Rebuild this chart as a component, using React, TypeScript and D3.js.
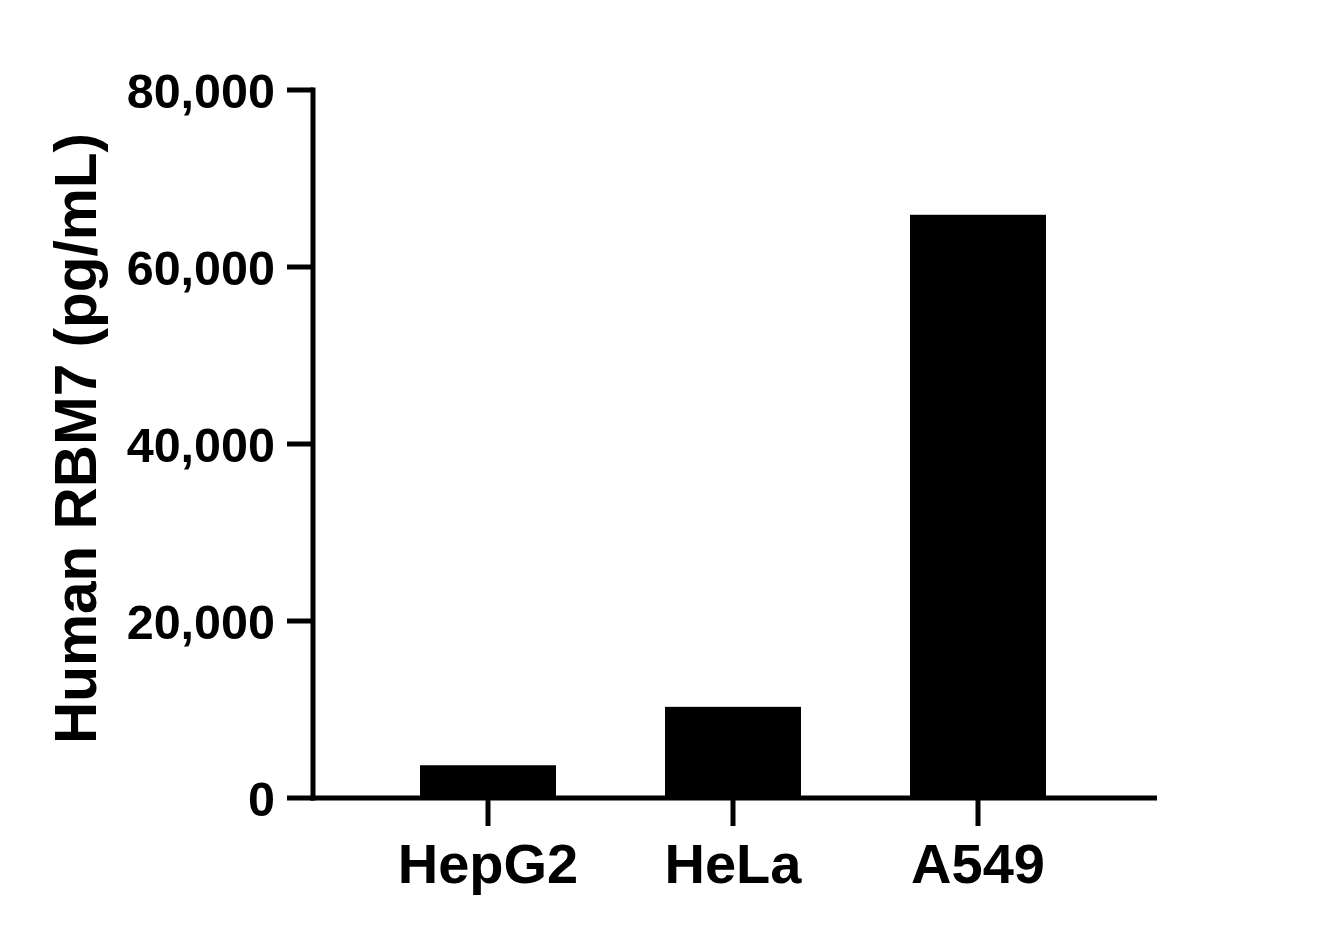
import React, {useEffect, useRef} from 'react';
import * as d3 from 'd3';

const categories = ['HepG2', 'HeLa', 'A549'];
const values = [3700, 10300, 65900];
const yTicks = [0, 20000, 40000, 60000, 80000];
const yTitle = 'Human RBM7 (pg/mL)';

const WIDTH = 1336;
const HEIGHT = 934;
const FONT = '"Liberation Sans", Arial, sans-serif';

const App: React.FC = () => {
    const svgRef = useRef<SVGSVGElement | null>(null);

    useEffect(() => {
        if (!svgRef.current) return;
        const svg = d3.select(svgRef.current);
        svg.selectAll('*').remove();

        const axisX0 = 313;
        const axisX1 = 1157;
        const y = d3.scaleLinear().domain([0, 80000]).range([798, 90]);
        const x = d3
            .scaleBand<string>()
            .domain(categories)
            .range([365.5, 1100.5])
            .paddingInner(0.445)
            .paddingOuter(0.2225);

        // bars
        svg.append('g')
            .selectAll('rect')
            .data(values)
            .enter()
            .append('rect')
            .attr('x', (_d, i) => x(categories[i]) as number)
            .attr('y', (d) => y(d))
            .attr('width', x.bandwidth())
            .attr('height', (d) => y(0) - y(d))
            .attr('fill', 'black');

        // y axis
        const yAxis = svg.append('g');
        yAxis.append('line')
            .attr('x1', axisX0).attr('x2', axisX0)
            .attr('y1', y(80000) - 2.5).attr('y2', y(0) + 2.5)
            .attr('stroke', 'black').attr('stroke-width', 5);
        const yt = yAxis.selectAll('.ytick').data(yTicks).enter().append('g')
            .attr('transform', (d) => `translate(0,${y(d)})`);
        yt.append('line')
            .attr('x1', 287).attr('x2', axisX0)
            .attr('stroke', 'black').attr('stroke-width', 5);
        yt.append('text')
            .attr('x', 275)
            .attr('y', 18)
            .attr('text-anchor', 'end')
            .style('font-family', FONT)
            .style('font-weight', 'bold')
            .style('font-size', '48.5px')
            .text((d) => d3.format(',')(d));

        // x axis
        const xAxis = svg.append('g');
        xAxis.append('line')
            .attr('x1', axisX0 - 2.5).attr('x2', axisX1)
            .attr('y1', y(0)).attr('y2', y(0))
            .attr('stroke', 'black').attr('stroke-width', 5);
        const xt = xAxis.selectAll('.xtick').data(categories).enter().append('g')
            .attr('transform', (d) => `translate(${(x(d) as number) + x.bandwidth() / 2},0)`);
        xt.append('line')
            .attr('y1', y(0)).attr('y2', 826)
            .attr('stroke', 'black').attr('stroke-width', 5);
        xt.append('text')
            .attr('y', 883)
            .attr('text-anchor', 'middle')
            .style('font-family', FONT)
            .style('font-weight', 'bold')
            .style('font-size', '56px')
            .text((d) => d);

        // y title
        svg.append('text')
            .attr('transform', `translate(96,438.5) rotate(-90)`)
            .attr('text-anchor', 'middle')
            .style('font-family', FONT)
            .style('font-weight', 'bold')
            .style('font-size', '58.5px')
            .text(yTitle);
    }, []);

    return (
        <div style={{position: 'absolute', left: 0, top: 0, background: 'white'}}>
            <svg ref={svgRef} width={WIDTH} height={HEIGHT} style={{display: 'block'}}></svg>
        </div>
    );
};

export default App;
